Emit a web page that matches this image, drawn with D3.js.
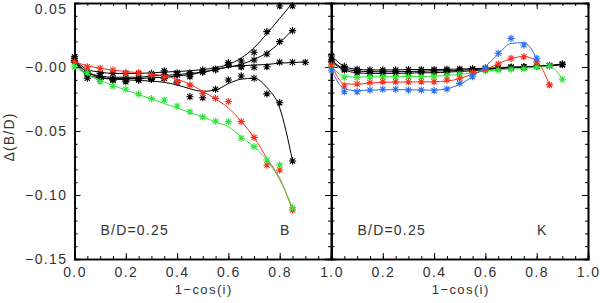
<!DOCTYPE html>
<html>
<head>
<meta charset="utf-8">
<script src="https://cdn.jsdelivr.net/npm/d3@7"></script>
<style>
  body { margin: 0; background: #fff; }
  svg text { font-family: "Liberation Sans", Arial, sans-serif; fill: #333; }
</style>
</head>
<body>
<svg id="graph" width="600" height="303"></svg>
<script>
/*******************************************************************************************/
// Data

var xGrid = [0, 0.05, 0.1, 0.15, 0.2, 0.25, 0.3, 0.35, 0.4, 0.45, 0.5, 0.55, 0.6, 0.65, 0.7, 0.75, 0.8, 0.85, 0.9];

var yTicks = [-0.15, -0.10, -0.05, 0.00, 0.05];
var yTickLabels = ['\u22120.15', '\u22120.10', '\u22120.05', '\u22120.00', '0.05'];
var xTicks = [0, 0.2, 0.4, 0.6, 0.8, 1.0];
var xTickLabelsLeft = ['0.0', '0.2', '0.4', '0.6', '0.8', ''];
var xTickLabelsRight = ['1.0', '0.2', '0.4', '0.6', '0.8', '1.0'];

// left panel, B band
var bBlackA    = [0.0068, -0.004, -0.005, -0.005, -0.005, -0.005, -0.005, -0.003, -0.0045, -0.0045, -0.0023, -0.0016, 0.0034, 0.0047, 0.0115, 0.0276, 0.0477, 0.0477];
var bBlackAFit = [0.006, -0.002, -0.004, -0.005, -0.005, -0.005, -0.0045, -0.004, -0.0035, -0.003, -0.002, -0.0005, 0.002, 0.007, 0.015, 0.026, 0.038, 0.050];
var bBlackB    = [0.005, -0.006, -0.008, -0.0096, -0.0096, -0.0088, -0.0088, -0.006, -0.006, -0.0076, -0.0037, -0.002, 0.0016, 0.0002, 0.0055, 0.0102, 0.0198, 0.0284];
var bBlackBFit = [0.005, -0.004, -0.007, -0.008, -0.008, -0.008, -0.007, -0.0065, -0.006, -0.005, -0.004, -0.002, 0.000, 0.002, 0.006, 0.011, 0.019, 0.029];
var bBlackC    = [0.004, -0.005, -0.0096, -0.0102, -0.0102, -0.0102, -0.0096, -0.0088, -0.006, -0.006, -0.004, -0.002, 0.0016, 0.0002, -0.0002, 0.0002, 0.0037, 0.0037, 0.0037];
var bBlackCFit = [0.004, -0.004, -0.008, -0.009, -0.009, -0.009, -0.0085, -0.008, -0.007, -0.006, -0.004, -0.002, 0.000, 0.001, 0.0015, 0.002, 0.003, 0.0035, 0.004];
var bBlackD    = [0.008, -0.0088, -0.0096, -0.0102, -0.0115, -0.0102, -0.0096, -0.0088, -0.0122, -0.0232, -0.024, -0.0174, -0.0102, -0.007, -0.0088, -0.021, -0.0279, -0.0734];
var bBlackDFit = [0.004, -0.006, -0.0085, -0.0095, -0.010, -0.0105, -0.011, -0.012, -0.014, -0.017, -0.019, -0.018, -0.013, -0.0095, -0.0088, -0.016, -0.032, -0.0734];
var bRed       = [0.004, 0.0002, -0.001, -0.0023, -0.0045, -0.0045, -0.0063, -0.008, -0.0115, -0.014, -0.0206, -0.0245, -0.027, -0.0427, -0.055, -0.0766, -0.0805, -0.1117];
var bRedFit    = [0.004, 0.001, -0.001, -0.0025, -0.0035, -0.0045, -0.0055, -0.007, -0.0095, -0.0135, -0.019, -0.025, -0.032, -0.0425, -0.055, -0.0713, -0.087, -0.1117];
var bGreen     = [0.0002, -0.0045, -0.0115, -0.015, -0.0174, -0.021, -0.0247, -0.0258, -0.0305, -0.035, -0.039, -0.0424, -0.0427, -0.0557, -0.0622, -0.0727, -0.0766, -0.110];
var bGreenFit  = [0.0002, -0.006, -0.0105, -0.0145, -0.018, -0.0215, -0.025, -0.0285, -0.032, -0.0355, -0.039, -0.043, -0.0466, -0.0545, -0.0625, -0.0727, -0.088, -0.110];

// right panel, K band
var kBlackA    = [0.0086, 0.0005, -0.0018, -0.0023, -0.0023, -0.0023, -0.002, -0.002, -0.002, -0.0018, -0.0016, -0.0013, -0.001, -0.0005, 0.0, 0.0002, 0.0005, 0.0012, 0.0023];
var kBlackB    = [0.0055, -0.0015, -0.003, -0.0037, -0.0037, -0.0037, -0.0035, -0.0033, -0.003, -0.003, -0.0025, -0.002, -0.0015, -0.001, -0.0005, 0.0, 0.0005, 0.001, 0.002];
var kBlackC    = [0.004, -0.0023, -0.0045, -0.005, -0.005, -0.005, -0.0048, -0.0045, -0.0045, -0.004, -0.0035, -0.003, -0.002, -0.0012, -0.0005, 0.0, 0.0005, 0.001, 0.0018];
var kGreen     = [0.0002, -0.008, -0.0082, -0.0076, -0.0076, -0.0076, -0.0076, -0.0076, -0.0072, -0.0065, -0.0055, -0.0045, -0.003, -0.0023, -0.0018, -0.0015, 0.0002, 0.0008, -0.0096];
var kGreenFit  = [0.0002, -0.0072, -0.0078, -0.0077, -0.0076, -0.0076, -0.0075, -0.0074, -0.0072, -0.0066, -0.0057, -0.0045, -0.0032, -0.0023, -0.0016, -0.001, -0.0002, 0.0004, -0.0096];
var kRed       = [0.0016, -0.0148, -0.0133, -0.0122, -0.0115, -0.0115, -0.0115, -0.0115, -0.0115, -0.0102, -0.0088, -0.0045, -0.0018, 0.0023, 0.0068, 0.008, 0.004, -0.014];
var kRedFit    = [0.0016, -0.013, -0.0135, -0.0125, -0.012, -0.0118, -0.0117, -0.0117, -0.0115, -0.011, -0.009, -0.0055, -0.002, 0.0025, 0.0065, 0.0082, 0.0045, -0.014];
var kBlue      = [-0.0023, -0.0193, -0.0193, -0.018, -0.0174, -0.0174, -0.018, -0.018, -0.0185, -0.0172, -0.0128, -0.0076, -0.0005, 0.0107, 0.0224, 0.0172, 0.0068];
var kBlueFit   = [-0.0023, -0.017, -0.0185, -0.018, -0.0178, -0.0177, -0.0178, -0.018, -0.018, -0.017, -0.0135, -0.0075, 0.0005, 0.010, 0.0185, 0.019, 0.0068];

/*******************************************************************************************/

var BLACK = '#000', RED = '#f4311e', GREEN = '#2ee63a', BLUE = '#2a6ff0';

var leftSeries = [
  { pts: bBlackA, fit: bBlackAFit, color: BLACK },
  { pts: bBlackB, fit: bBlackBFit, color: BLACK },
  { pts: bBlackC, fit: bBlackCFit, color: BLACK },
  { pts: bBlackD, fit: bBlackDFit, color: BLACK },
  { pts: bRed,    fit: bRedFit,    color: RED },
  { pts: bGreen,  fit: bGreenFit,  color: GREEN }
];
var rightSeries = [
  { pts: kBlackA, fit: kBlackA,   color: BLACK },
  { pts: kBlackB, fit: kBlackB,   color: BLACK },
  { pts: kBlackC, fit: kBlackC,   color: BLACK },
  { pts: kGreen,  fit: kGreenFit, color: GREEN },
  { pts: kRed,    fit: kRedFit,   color: RED },
  { pts: kBlue,   fit: kBlueFit,  color: BLUE }
];

var svg = d3.select('#graph');
var top_ = 3, bottom = 259;
var yScale = d3.scaleLinear().domain([-0.15, 0.05]).range([bottom, top_]);

function star(r){
  var a = r * 0.72;
  return 'M' + (-r) + ',0h' + (2*r) + 'M0,' + (-r) + 'v' + (2*r) +
         'M' + (-a) + ',' + (-a) + 'l' + (2*a) + ',' + (2*a) +
         'M' + (-a) + ',' + a + 'l' + (2*a) + ',' + (-2*a);
}

function drawPanel(x0, x1, series, xLabels, showY, note1, note2, note2x){
  var xScale = d3.scaleLinear().domain([0, 1]).range([x0, x1]);
  var g = svg.append('g');

  var xMinor = d3.range(0, 1.0001, 0.05).map(function(d){ return +d.toFixed(2); });
  var yMinor = d3.range(-0.15, 0.0501, 0.01).map(function(d){ return +d.toFixed(2); });

  // ticks on all four sides
  var axB = d3.axisBottom(xScale).tickValues(xTicks).tickSize(-6).tickPadding(8)
              .tickFormat(function(d, i){ return xLabels[i]; });
  g.append('g').attr('class', 'axis').attr('transform', 'translate(0,' + bottom + ')').call(axB);
  g.append('g').attr('class', 'axis').attr('transform', 'translate(0,' + bottom + ')')
   .call(d3.axisBottom(xScale).tickValues(xMinor).tickSize(-3).tickFormat(''));
  g.append('g').attr('class', 'axis').attr('transform', 'translate(0,' + top_ + ')')
   .call(d3.axisTop(xScale).tickValues(xTicks).tickSize(-6).tickFormat(''));
  g.append('g').attr('class', 'axis').attr('transform', 'translate(0,' + top_ + ')')
   .call(d3.axisTop(xScale).tickValues(xMinor).tickSize(-3).tickFormat(''));

  var axL = d3.axisLeft(yScale).tickValues(yTicks).tickSize(-6).tickPadding(7)
              .tickFormat(function(d, i){ return showY ? yTickLabels[i] : ''; });
  g.append('g').attr('class', 'axis yaxis').attr('transform', 'translate(' + x0 + ',0)').call(axL);
  g.append('g').attr('class', 'axis').attr('transform', 'translate(' + x0 + ',0)')
   .call(d3.axisLeft(yScale).tickValues(yMinor).tickSize(-3).tickFormat(''));
  g.append('g').attr('class', 'axis').attr('transform', 'translate(' + x1 + ',0)')
   .call(d3.axisRight(yScale).tickValues(yTicks).tickSize(-6).tickFormat(''));
  g.append('g').attr('class', 'axis').attr('transform', 'translate(' + x1 + ',0)')
   .call(d3.axisRight(yScale).tickValues(yMinor).tickSize(-3).tickFormat(''));

  g.selectAll('.axis path').attr('stroke', '#000').attr('stroke-width', 1.6);
  g.selectAll('.axis line').attr('stroke', '#000').attr('stroke-width', 1);
  g.selectAll('.axis text').style('font-size', '14px').style('letter-spacing', '1.4px')
   .attr('fill', '#333');
  // keep the top label inside the picture, as the original does
  g.selectAll('.yaxis .tick text').filter(function(d){ return d > 0.04; }).attr('dy', '0.75em');

  // curves and markers
  var line = d3.line().curve(d3.curveMonotoneX)
               .x(function(d, i){ return xScale(xGrid[i]); })
               .y(function(d){ return yScale(d); });

  series.forEach(function(s){
    g.append('path').attr('d', line(s.fit))
     .attr('fill', 'none').attr('stroke', s.color).attr('stroke-width', 1);
    g.selectAll(null).data(s.pts).enter().append('path')
     .attr('d', star(3.6))
     .attr('transform', function(d, i){ return 'translate(' + xScale(xGrid[i]) + ',' + yScale(d) + ')'; })
     .attr('fill', 'none').attr('stroke', s.color).attr('stroke-width', 1.1);
  });

  g.append('text').attr('x', x0 + 26).attr('y', 235).style('font-size', '14px')
   .style('letter-spacing', '1.2px').text(note1);
  g.append('text').attr('x', note2x).attr('y', 235).style('font-size', '14px').text(note2);

  g.append('text').attr('x', (x0 + x1) / 2 + 1).attr('y', 294).attr('text-anchor', 'middle')
   .style('font-size', '13px').style('letter-spacing', '1.4px').text('1\u2212cos(i)');
}

drawPanel(74.5, 331, leftSeries, xTickLabelsLeft, true, 'B/D=0.25', 'B', 280);
drawPanel(331.5, 588, rightSeries, xTickLabelsRight, false, 'B/D=0.25', 'K', 537);

svg.append('text').attr('transform', 'translate(14,137) rotate(-90)').attr('text-anchor', 'middle')
   .style('font-size', '14px').style('letter-spacing', '1.2px').text('\u0394(B/D)');
</script>
</body>
</html>
